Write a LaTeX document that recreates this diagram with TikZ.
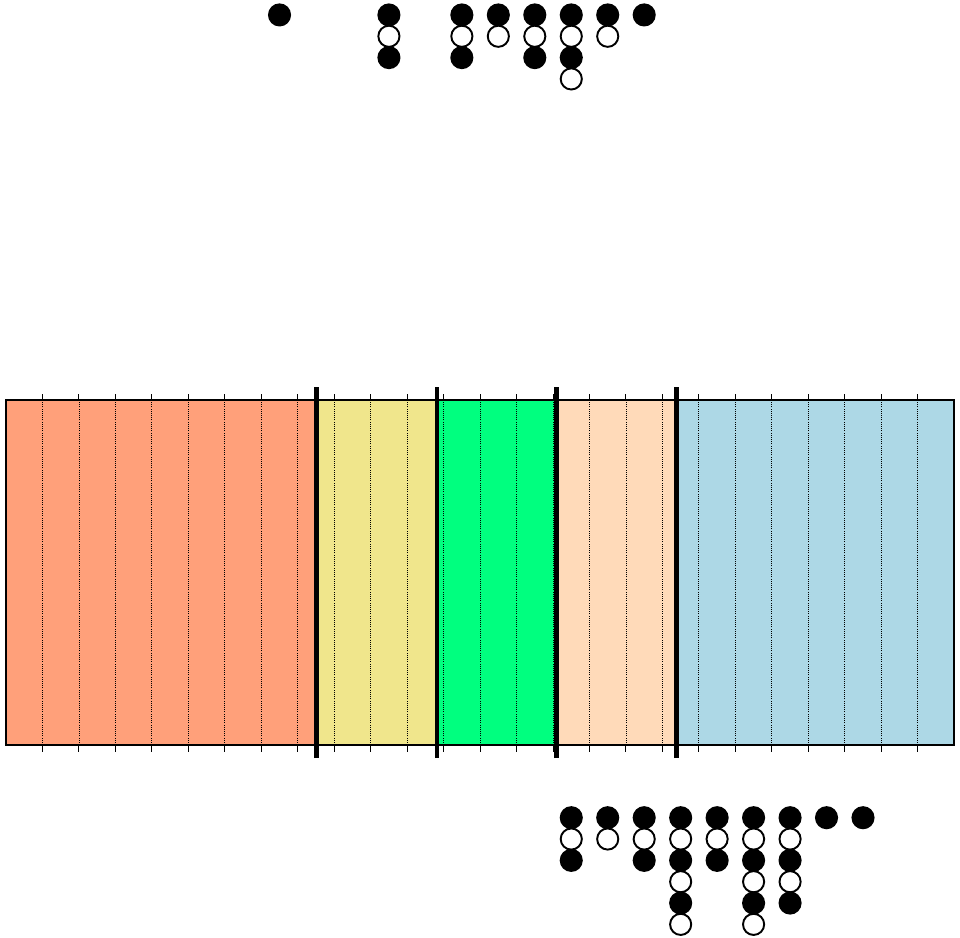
\documentclass[tikz,border=0pt]{standalone}
\usepackage{tikz}
\usetikzlibrary{positioning}

\definecolor{bandA}{HTML}{FFA07A}
\definecolor{bandB}{HTML}{F0E68C}
\definecolor{bandC}{HTML}{00FF7F}
\definecolor{bandD}{HTML}{FFDAB9}
\definecolor{bandE}{HTML}{ADD8E6}

\begin{document}
\begin{tikzpicture}
	[dot/.style={shape=circle,draw,line width=1.5pt,minimum size=0.58cm,inner sep=0pt},
	 on dot/.style={dot,fill=black},
	 off dot/.style={dot,fill=white},
	 cut/.style={line width=3.6pt},
	 tick/.style={line width=0.8pt}]
	\useasboundingbox (-0.165,-5.29) rectangle (26.16,20.43);

	% bands
	\fill[bandA] (0,0) rectangle (8.52,9.45);
	\fill[bandB] (8.52,0) rectangle (11.82,9.45);
	\fill[bandC] (11.82,0) rectangle (15.1,9.45);
	\fill[bandD] (15.1,0) rectangle (18.38,9.45);
	\fill[bandE] (18.38,0) rectangle (26,9.45);

	\foreach \k in {1,...,25} {
		\draw[densely dotted,line width=0.7pt] (\k,0) -- (\k,9.45);
		\draw[tick] (\k,9.45) -- (\k,9.62);
		\draw[tick] (\k,0) -- (\k,-0.19);
	}
	\draw[line width=1.6pt] (0,0) rectangle (26,9.45);

	\foreach \c in {8.52,11.82,15.1,18.38}
		\draw[cut] (\c,-0.36) -- (\c,9.81);

	% top columns
	\foreach \x/\n in {7.5/1,10.5/3,12.5/3,13.5/2,14.5/3,15.5/4,16.5/2,17.5/1}
		\foreach \k in {1,...,\n} {
			\pgfmathsetmacro{\yy}{20.02-0.585*(\k-1)}
			\ifodd\k
				\node [on dot] (t\x-\k) at (\x,\yy) {};
			\else
				\node [off dot] (t\x-\k) at (\x,\yy) {};
			\fi
		}

	% bottom columns
	\foreach \x/\n in {15.5/3,16.5/2,17.5/3,18.5/6,19.5/3,20.5/6,21.5/5,22.5/1,23.5/1}
		\foreach \k in {1,...,\n} {
			\pgfmathsetmacro{\yy}{-1.993-0.585*(\k-1)}
			\ifodd\k
				\node [on dot] (b\x-\k) at (\x,\yy) {};
			\else
				\node [off dot] (b\x-\k) at (\x,\yy) {};
			\fi
		}
\end{tikzpicture}
\end{document}
